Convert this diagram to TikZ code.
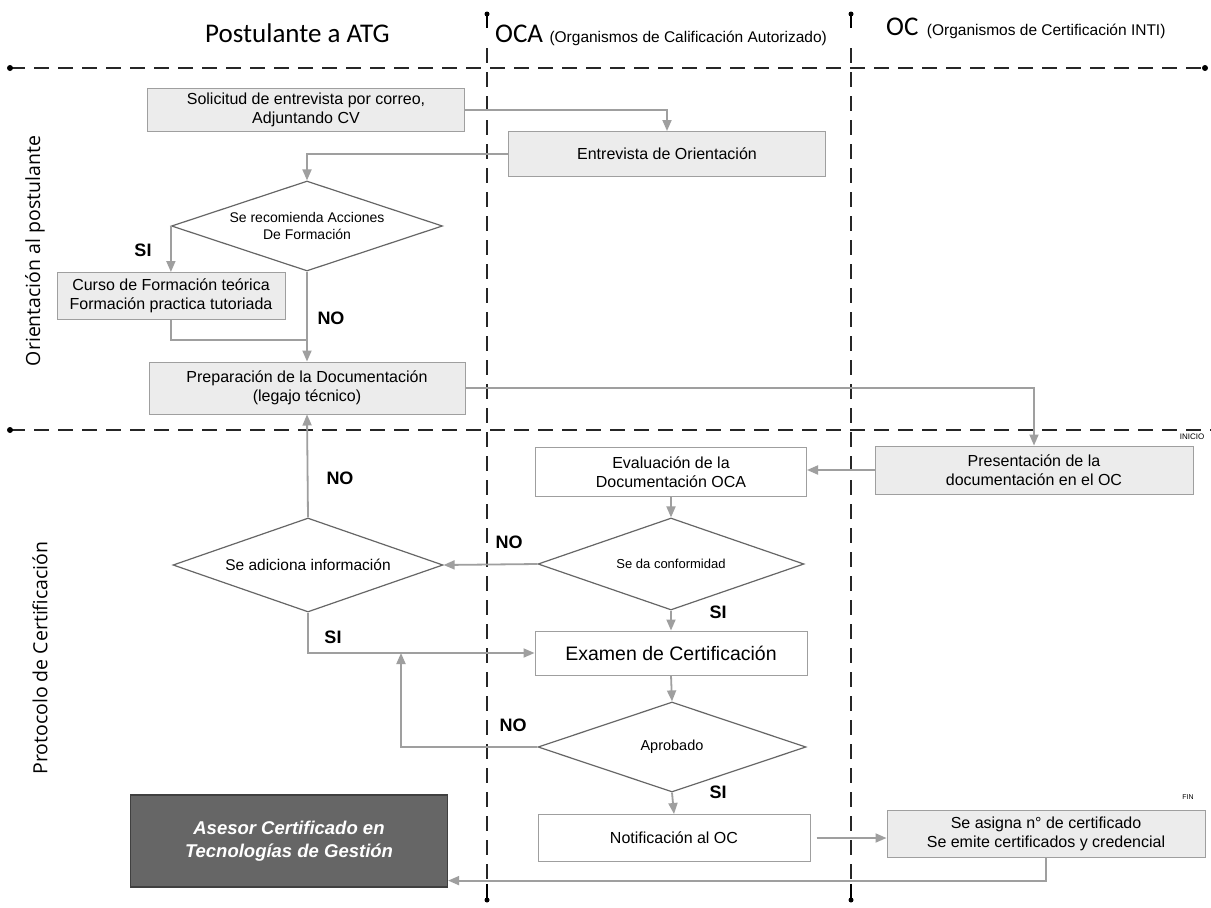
\documentclass[tikz,border=0pt]{standalone}
\usepackage{fontspec}
\setmainfont{Liberation Sans}
\newfontfamily\headfont{Carlito}
\newfontfamily\sidefont{Open Sans}
\usetikzlibrary{shapes.geometric,arrows.meta}

\begin{document}
\begin{tikzpicture}[x=1pt, y=-1pt,
  boxStyle/.style={draw=gray!75, line width=1pt, align=center, inner sep=2pt, font=\fontsize{16}{19}\selectfont},
  grayBox/.style={boxStyle, fill=gray!15},
  whiteBox/.style={boxStyle, fill=white},
  decisionStyle/.style={diamond, draw=gray!80!black, line width=1.2pt, aspect=3, inner sep=0pt, align=center, fill=white, font=\fontsize{14}{17}\selectfont},
  flowLine/.style={draw=gray!75, line width=1.8pt},
  flowArrow/.style={flowLine, -{Triangle[length=11pt,width=9pt]}},
  laneLine/.style={draw=black!85, line width=2.4pt, dash pattern=on 15pt off 9pt},
  answerStyle/.style={font=\bfseries\fontsize{18}{18}\selectfont},
  headStyle/.style={anchor=base west, inner sep=0pt, font=\headfont\fontsize{27}{27}\selectfont},
  sideStyle/.style={rotate=90, inner sep=0pt, font=\sidefont\fontsize{19.5}{19.5}\selectfont}
]
\useasboundingbox (0,0) rectangle (1211,908);
\fill[white] (0,0) rectangle (1211,908);

% lanes
\draw[laneLine] (10,68) -- (1205,68);
\fill (10,68) circle (3pt);
\fill (1205,68) circle (3pt);
\draw[laneLine] (10,430) -- (1211,430);
\fill (10,430) circle (3pt);
\foreach \lx in {487,851} {
  \fill (\lx,14) circle (2.5pt);
  \draw[line width=2pt] (\lx,14) -- (\lx,28);
  \draw[laneLine] (\lx,48) -- (\lx,884);
  \draw[line width=2pt] (\lx,884) -- (\lx,900);
  \fill (\lx,900) circle (2.5pt);
}

% headers
\node[headStyle] (postulanteHead) at (205,42) {Postulante a ATG};
\node[headStyle] (ocaHead) at (495,42) {OCA};
\node[anchor=base west, inner sep=0pt, font=\fontsize{15.5}{15.5}\selectfont] (ocaName) at ([xshift=6pt]ocaHead.base east) {(Organismos de Calificación Autorizado)};
\node[headStyle] (ocHead) at (886,35) {OC};
\node[anchor=base west, inner sep=0pt, font=\fontsize{15.5}{15.5}\selectfont] (ocName) at ([xshift=8pt]ocHead.base east) {(Organismos de Certificación INTI)};
\node[sideStyle] (orientacionSide) at (35,251) {Orientación al postulante};
\node[sideStyle] (protocoloSide) at (40,658) {Protocolo de Certificación};
\node[font=\fontsize{8}{8}\selectfont] (inicioTag) at (1192,437) {INICIO};
\node[font=\fontsize{7}{7}\selectfont] (finTag) at (1188,797) {FIN};

% orientacion al postulante
\node[grayBox, minimum width=317pt, minimum height=43pt] (solicitud) at (306,110) {Solicitud de entrevista por correo,\\Adjuntando CV};
\node[grayBox, minimum width=317pt, minimum height=45pt] (entrevista) at (667,154) {Entrevista de Orientación};
\node[decisionStyle, minimum width=271pt, minimum height=90pt] (recomienda) at (307,226) {Se recomienda Acciones\\De Formación};
\node[grayBox, minimum width=228pt, minimum height=47pt] (curso) at (171,296) {Curso de Formación teórica\\Formación practica tutoriada};
\node[grayBox, minimum width=316pt, minimum height=52pt] (preparacion) at (307,388) {Preparación de la Documentación\\(legajo técnico)};

% protocolo de certificacion
\node[grayBox, minimum width=318pt, minimum height=48pt] (presentacion) at (1034,470) {Presentación de la\\documentación en el OC};
\node[whiteBox, minimum width=271pt, minimum height=49pt] (evaluacion) at (671,472) {Evaluación de la\\Documentación OCA};
\node[decisionStyle, minimum width=266pt, minimum height=92pt, font=\fontsize{13}{16}\selectfont] (conformidad) at (671,564) {Se da conformidad};
\node[decisionStyle, minimum width=270pt, minimum height=94pt, font=\fontsize{15.5}{18}\selectfont] (adiciona) at (308,565) {Se adiciona información};
\node[whiteBox, minimum width=272pt, minimum height=44pt, font=\fontsize{19.5}{22}\selectfont] (examen) at (671,653) {Examen de Certificación};
\node[decisionStyle, minimum width=268pt, minimum height=90pt, font=\fontsize{14.5}{17}\selectfont] (aprobado) at (672,747) {Aprobado};
\node[whiteBox, minimum width=272pt, minimum height=47pt] (notificacion) at (674,838) {Notificación al OC};
\node[grayBox, minimum width=318pt, minimum height=47pt] (asigna) at (1046,834) {Se asigna n° de certificado\\Se emite certificados y credencial};
\node[draw=black!75, line width=1.2pt, fill=black!60, text=white, align=center, minimum width=317pt, minimum height=92pt, font=\bfseries\itshape\fontsize{18.5}{23}\selectfont] (asesor) at (289,841) {Asesor Certificado en\\Tecnologías de Gestión};

% connectors
\draw[flowArrow] (solicitud.east) -| (entrevista.north);
\draw[flowArrow] (entrevista.west) -| (recomienda.north);
\draw[flowArrow] (recomienda.west) -- (recomienda.west |- curso.north);
\draw[flowArrow] (recomienda.south) -- (preparacion.north);
\coordinate (cursoJoin) at (307,340);
\draw[flowLine] (curso.south) |- (cursoJoin);
\draw[flowArrow] (preparacion.east) -| (presentacion.north);
\draw[flowArrow] (presentacion.west) -- (presentacion.west -| evaluacion.east);
\draw[flowArrow] (evaluacion.south) -- (conformidad.north);
\draw[flowArrow] (conformidad.west) -- (adiciona.east);
\draw[flowArrow] (adiciona.north) -- (preparacion.south);
\draw[flowArrow] (adiciona.south) |- (examen.west);
\draw[flowArrow] (conformidad.south) -- (examen.north);
\draw[flowArrow] (examen.south) -- (aprobado.north);
\coordinate (retryJoin) at (401,653);
\draw[flowArrow] (aprobado.west) -| (retryJoin);
\draw[flowArrow] (aprobado.south) -- (notificacion.north);
\draw[flowArrow, shorten <=6pt] (notificacion.east) -- (notificacion.east -| asigna.west);
\draw[flowArrow] (asigna.south) |- ([yshift=7pt]asesor.south east);

% answers
\node[answerStyle] (siRecomienda) at (143,250) {SI};
\node[answerStyle] (noRecomienda) at (331,318) {NO};
\node[answerStyle] (noAdiciona) at (340,478) {NO};
\node[answerStyle] (noConformidad) at (509,542) {NO};
\node[answerStyle] (siConformidad) at (718,612) {SI};
\node[answerStyle] (siAdiciona) at (333,637) {SI};
\node[answerStyle] (noAprobado) at (513,725) {NO};
\node[answerStyle] (siAprobado) at (718,792) {SI};
\end{tikzpicture}
\end{document}
